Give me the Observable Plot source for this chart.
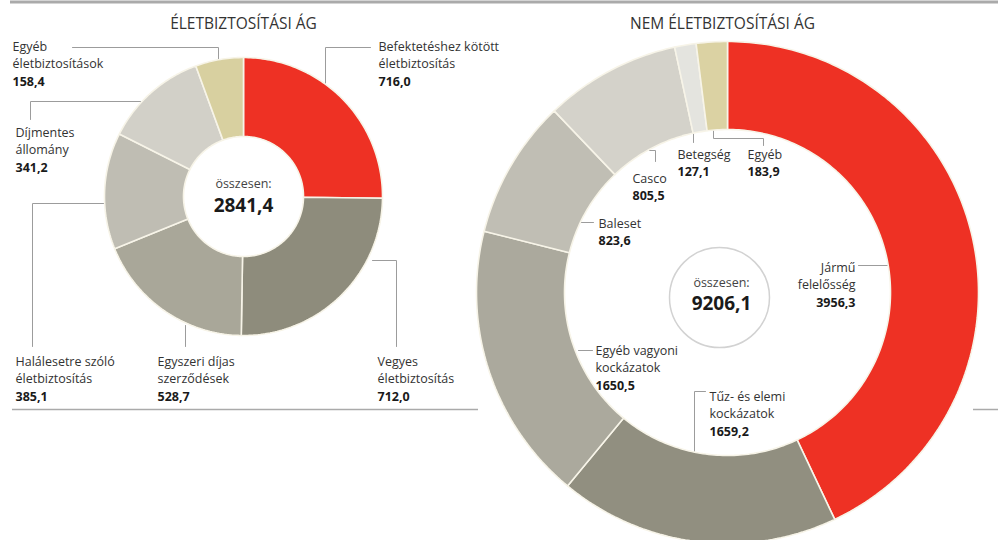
<!DOCTYPE html>
<html>
<head>
<meta charset="utf-8">
<script src="https://cdn.jsdelivr.net/npm/d3@7"></script>
<script src="https://cdn.jsdelivr.net/npm/@observablehq/plot@0.6"></script>
<style>
  html, body { margin: 0; padding: 0; background: #fff; }
  #chart { width: 998px; height: 540px; overflow: hidden; }
</style>
</head>
<body>
<div id="chart"></div>
<script>
// ---------- DATA ----------
const lifeTitle = "ÉLETBIZTOSÍTÁSI ÁG";
const nonLifeTitle = "NEM ÉLETBIZTOSÍTÁSI ÁG";
const totalLabel = "összesen:";

const lifeCategories = [
  ["Befektetéshez kötött", "életbiztosítás"],
  ["Vegyes", "életbiztosítás"],
  ["Egyszeri díjas", "szerződések"],
  ["Halálesetre szóló", "életbiztosítás"],
  ["Díjmentes", "állomány"],
  ["Egyéb", "életbiztosítások"]
];
const lifeValues = [716.0, 712.0, 528.7, 385.1, 341.2, 158.4];

const nonLifeCategories = [
  ["Jármű", "felelősség"],
  ["Tűz- és elemi", "kockázatok"],
  ["Egyéb vagyoni", "kockázatok"],
  ["Baleset"],
  ["Casco"],
  ["Betegség"],
  ["Egyéb"]
];
const nonLifeValues = [3956.3, 1659.2, 1650.5, 823.6, 805.5, 127.1, 183.9];

// ---------- STYLE / LAYOUT ----------
const lifeColors = ["#ee3124", "#8e8c7c", "#a9a799", "#bfbdb3", "#d2d0c8", "#d8d0a0"];
const nonLifeColors = ["#ee3124", "#918f80", "#aba99d", "#c0beb4", "#d4d2ca", "#e4e4df", "#dbd2a3"];
const sepColor = "#f7f4e8";
const leaderColor = "#9c9c9c";

const lifeGeom = {cx: 243, cy: 196, r0: 60, r1: 139};
const nonLifeGeom = {cx: 727, cy: 292, r0: 163, r1: 251};

// label anchor: x, y (center of first line), text-anchor
const lifeLabelPos = [
  [378, 46, "start"], [377, 361, "start"], [157, 361, "start"],
  [15, 361, "start"], [15, 132, "start"], [12, 46, "start"]
];
const nonLifeLabelPos = [
  [855, 267, "end"], [709, 396, "start"], [595, 350, "start"],
  [598, 223, "start"], [632, 178, "start"], [677, 154, "start"], [747, 154, "start"]
];
// leader polylines (layout only)
const lifeLeaders = [
  [[370, 47], [325, 47], [325, 95]],
  [[372, 260], [396, 260], [396, 346]],
  [[185, 346], [185, 325]],
  [[32, 346], [32, 203], [104, 203]],
  [[30, 119], [30, 101], [140, 101]],
  [[72, 47], [218, 47], [218, 64]]
];
const nonLifeLeaders = [
  [[858, 265], [890, 265]],
  [[705, 391], [694, 391], [694, 460]],
  [[578, 350], [592, 350]],
  [[578, 222], [593, 222]],
  [[649, 150], [655, 150], [655, 161]],
  [[693, 126], [693, 142]],
  [[713, 126], [713, 138], [763, 138], [763, 145]]
];

const lineH = 17.5;
const fmt = v => v.toFixed(1).replace(".", ",");

// ---------- BUILD ROWS ----------
function arcRows(prefix, values, colors, g) {
  const pie = d3.pie().sort(null).startAngle(0).endAngle(2 * Math.PI)(values);
  const rows = [];
  pie.forEach((p, i) => {
    const n = Math.max(4, Math.ceil((p.endAngle - p.startAngle) * 180 / Math.PI));
    const key = prefix + i;
    for (let k = 0; k <= n; k++) {
      const a = p.startAngle + (p.endAngle - p.startAngle) * k / n;
      rows.push({key, color: colors[i], x: g.cx + g.r1 * Math.sin(a), y: g.cy - g.r1 * Math.cos(a)});
    }
    for (let k = n; k >= 0; k--) {
      const a = p.startAngle + (p.endAngle - p.startAngle) * k / n;
      rows.push({key, color: colors[i], x: g.cx + g.r0 * Math.sin(a), y: g.cy - g.r0 * Math.cos(a)});
    }
  });
  return rows;
}

function labelRows(cats, values, pos) {
  const rows = [];
  cats.forEach((lines, i) => {
    const [x, y, anchor] = pos[i];
    lines.forEach((t, j) => rows.push({x, y: y + j * lineH, text: t, anchor, bold: false}));
    rows.push({x, y: y + lines.length * lineH, text: fmt(values[i]), anchor, bold: true});
  });
  return rows;
}

function leaderRows(prefix, leaders) {
  const rows = [];
  leaders.forEach((pts, i) => pts.forEach(([x, y]) => rows.push({id: prefix + i, x, y})));
  return rows;
}

const arcs = [...arcRows("L", lifeValues, lifeColors, lifeGeom), ...arcRows("N", nonLifeValues, nonLifeColors, nonLifeGeom)];
const labels = [...labelRows(lifeCategories, lifeValues, lifeLabelPos), ...labelRows(nonLifeCategories, nonLifeValues, nonLifeLabelPos)];
const leaders = [...leaderRows("L", lifeLeaders), ...leaderRows("N", nonLifeLeaders)];

const totals = [
  {x: lifeGeom.cx, y: 183, y2: 205, total: d3.sum(lifeValues)},
  {x: 721, y: 282, y2: 303, total: d3.sum(nonLifeValues)}
];
const titles = [
  {x: lifeGeom.cx, y: 24, text: lifeTitle},
  {x: 722, y: 24, text: nonLifeTitle}
];

function labelMarks(anchor) {
  const sub = labels.filter(d => d.anchor === anchor);
  return [
    Plot.text(sub.filter(d => !d.bold), {x: "x", y: "y", text: "text", textAnchor: anchor, fontSize: 12.5, fill: "#333", lineAnchor: "middle"}),
    Plot.text(sub.filter(d => d.bold), {x: "x", y: "y", text: "text", textAnchor: anchor, fontSize: 12.5, fontWeight: "bold", fill: "#1a1a1a", lineAnchor: "middle"})
  ];
}

const chart = Plot.plot({
  width: 998,
  height: 540,
  margin: 0,
  x: {domain: [0, 998], range: [0, 998], axis: null},
  y: {domain: [0, 540], range: [0, 540], axis: null},
  color: {type: "identity"},
  style: {fontFamily: "'Open Sans', 'DejaVu Sans', sans-serif", background: "#fff", overflow: "hidden"},
  marks: [
    Plot.ruleY([1.5], {x1: 10, x2: 998, stroke: "#aaaaaa", strokeWidth: 3}),
    Plot.ruleY([409], {x1: 12, x2: 478, stroke: "#aaaaaa", strokeWidth: 1.5}),
    Plot.ruleY([409], {x1: 973, x2: 998, stroke: "#aaaaaa", strokeWidth: 1.5}),
    Plot.line(leaders, {x: "x", y: "y", z: "id", stroke: leaderColor, strokeWidth: 1}),
    Plot.line(arcs, {x: "x", y: "y", z: "key", fill: "color", stroke: sepColor, strokeWidth: 1.6, curve: "linear-closed", strokeLinejoin: "miter"}),
    Plot.dot([{x: 719, y: 297}], {x: "x", y: "y", r: 50, fill: "white", stroke: "#d2d2d2", strokeWidth: 1.5}),
    Plot.text(titles, {x: "x", y: "y", text: "text", fontSize: 15.5, fill: "#333", textAnchor: "middle"}),
    ...labelMarks("start"),
    ...labelMarks("end"),
    Plot.text(totals, {x: "x", y: "y", text: () => totalLabel, fontSize: 12.5, fill: "#444", textAnchor: "middle"}),
    Plot.text(totals, {x: "x", y: "y2", text: (d) => fmt(d.total), fontSize: 19, fontWeight: "bold", fill: "#1a1a1a", textAnchor: "middle"})
  ]
});
document.getElementById("chart").appendChild(chart);
</script>
</body>
</html>
